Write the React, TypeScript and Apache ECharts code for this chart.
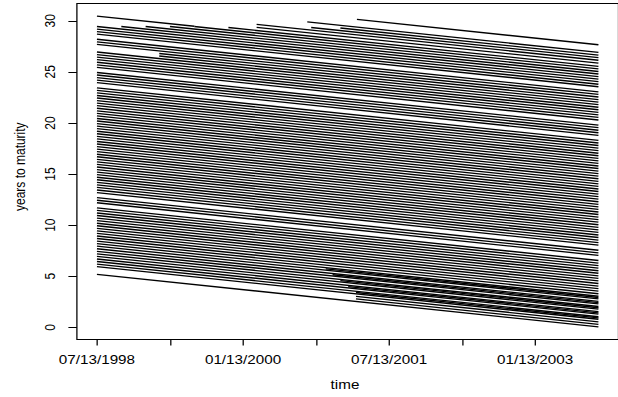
import React, { useEffect, useRef } from 'react';
import * as echarts from 'echarts';

// time is measured in years after 07/13/1998; the sample ends here
const SAMPLE_END = 5.15;

// maturities (years after 07/13/1998) of issues present for the whole sample
const initialMaturities = [
  5.19, 5.94, 6.19, 6.44, 6.69, 6.94, 7.19, 7.44, 7.69, 7.94, 8.19, 8.44, 8.69, 8.94,
  9.19, 9.44, 9.69, 9.94, 10.19, 10.44, 10.69, 10.94, 11.19, 11.44, 11.69, 12.19, 12.44,
  12.69, 13.19, 13.44, 13.69, 13.94, 14.19, 14.44, 14.69, 14.94, 15.19, 15.44, 15.69,
  15.94, 16.19, 16.44, 16.69, 16.94, 17.19, 17.44, 17.69, 17.94, 18.19, 18.44, 18.69,
  18.94, 19.19, 19.44, 19.69, 19.94, 20.19, 20.44, 20.69, 20.94, 21.19, 21.44, 21.69,
  21.94, 22.19, 22.44, 22.69, 22.94, 23.19, 23.44, 23.94, 24.19, 24.44, 24.69, 24.94,
  25.44, 25.69, 25.94, 26.19, 26.44, 26.69, 26.94, 27.69, 27.94, 28.19, 28.69, 28.94,
  29.19, 29.44,
];

// issues leaving the sample early: [maturity, exit time]
const exitingIssues: [number, number][] = [[30.46, 1.0]];

// issues entering the sample later: [entry time, maturity]
const enteringIssues: [number, number][] = [
  [0.25, 29.69], [0.5, 29.94], [0.75, 30.19], [0.64, 27.19], [0.64, 27.44],
  [1.0, 30.44], [1.35, 30.69], [1.64, 31.0], [1.64, 31.29], [2.2, 31.54],
  [2.16, 32.05], [2.5, 31.79], [2.67, 32.8],
  [2.35, 8.07], [2.42, 7.57], [2.5, 7.07], [2.58, 6.57], [2.66, 6.07],
  [2.66, 5.44], [2.66, 5.69],
];

const xTickYears = [0, 0.75, 1.5, 2.25, 3, 3.75, 4.5];
const xLabelYears = [0, 1.5, 3, 4.5];
const xLabels = ['07/13/1998', '01/13/2000', '07/13/2001', '01/13/2003'];
const yTicks = [0, 5, 10, 15, 20, 25, 30];

const SX = 1.27;
const W = 618 / SX;
const FONT = '"Liberation Sans", Arial, Helvetica, sans-serif';

function segment(start: number, end: number, maturity: number) {
  return { coords: [[start, maturity - start], [end, maturity - end]] };
}

export default function App() {
  const ref = useRef<HTMLDivElement>(null);
  useEffect(() => {
    if (!ref.current) return;
    const chart = echarts.init(ref.current, undefined, { renderer: 'svg' });
    const data = [
      ...initialMaturities.map((m) => segment(0, SAMPLE_END, m)),
      ...exitingIssues.map(([m, e]) => segment(0, e, m)),
      ...enteringIssues.map(([t, m]) => segment(t, SAMPLE_END, m)),
    ];
    chart.setOption({
      animation: false,
      backgroundColor: '#fff',
      grid: {
        show: true,
        left: 60.55,
        top: 3.5,
        width: 433.9,
        height: 336,
        borderColor: '#000',
        borderWidth: 1,
        backgroundColor: 'transparent',
      },
      xAxis: {
        type: 'value',
        min: -0.206,
        max: 5.356,
        axisLine: { show: false, onZero: false },
        splitLine: { show: false },
        axisTick: {
          show: true,
          customValues: xTickYears,
          length: 6,
          lineStyle: { color: '#000', width: 1 },
        },
        axisLabel: {
          customValues: xLabelYears,
          formatter: (v: number) => {
            const i = xLabelYears.indexOf(v);
            return i >= 0 ? xLabels[i] : '';
          },
          margin: 15,
          fontSize: 12,
          fontFamily: FONT,
          color: '#000',
        },
      },
      yAxis: {
        type: 'value',
        min: -1.19,
        max: 31.69,
        axisLine: { show: false, onZero: false },
        splitLine: { show: false },
        axisTick: {
          show: true,
          customValues: yTicks,
          length: 6.7,
          lineStyle: { color: '#000', width: 1 },
        },
        axisLabel: {
          customValues: yTicks,
          rotate: 90,
          margin: 15,
          fontSize: 12,
          fontFamily: FONT,
          color: '#000',
        },
      },
      graphic: [
        {
          type: 'text',
          x: 345 / SX,
          y: 385,
          style: {
            text: 'time',
            fontSize: 12,
            fontFamily: FONT,
            fill: '#000',
            align: 'center',
            verticalAlign: 'middle',
          },
        },
        {
          type: 'text',
          x: 20 / SX,
          y: 166.7,
          rotation: Math.PI / 2,
          style: {
            text: 'years to maturity',
            fontSize: 12,
            fontFamily: FONT,
            fill: '#000',
            align: 'center',
            verticalAlign: 'middle',
          },
        },
      ],
      series: [
        {
          type: 'lines',
          coordinateSystem: 'cartesian2d',
          silent: true,
          data,
          lineStyle: { color: '#000', width: 1.35, opacity: 1 },
        },
      ],
    });
    return () => chart.dispose();
  }, []);
  return (
    <div
      style={{
        position: 'absolute',
        left: 0,
        top: 0,
        width: 618,
        height: 397,
        overflow: 'hidden',
        background: '#fff',
      }}
    >
      <div
        ref={ref}
        style={{
          width: W,
          height: 397,
          transform: `scaleX(${SX})`,
          transformOrigin: '0 0',
        }}
      />
    </div>
  );
}
